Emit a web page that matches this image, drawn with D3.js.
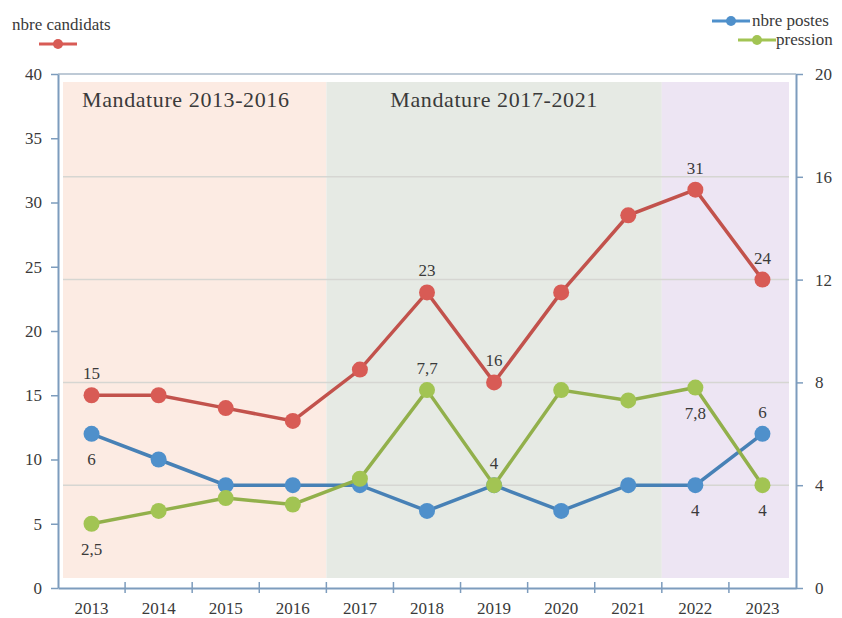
<!DOCTYPE html>
<html>
<head>
<meta charset="utf-8">
<script src="https://cdn.jsdelivr.net/npm/d3@7"></script>
<style>
  body { margin: 0; background: #fff; }
  svg text { font-family: "Liberation Serif", "DejaVu Serif", serif; fill: #3a3a3a; }
</style>
</head>
<body>
<div id="chart"></div>
<script>
const years = ['2013', '2014', '2015', '2016', '2017', '2018', '2019', '2020', '2021', '2022', '2023']
const candidats = [15, 15, 14, 13, 17, 23, 16, 23, 29, 31, 24]
const postes = [6, 5, 4, 4, 4, 3, 4, 3, 4, 4, 6]
const pression = [2.5, 3, 3.5, 3.25, 4.25, 7.7, 4, 7.7, 7.3, 7.8, 4]

const leftTicks = [0, 5, 10, 15, 20, 25, 30, 35, 40]
const rightTicks = [0, 4, 8, 12, 16, 20]

// periods (first year, last year, label)
const periods = [
  { from: '2013', to: '2016', label: 'Mandature 2013-2016', color: '#fcebe3' },
  { from: '2017', to: '2021', label: 'Mandature 2017-2021', color: '#e6eae4' },
  { from: '2022', to: '2023', label: '', color: '#ede5f3' }
]

// point labels: [year index, text, above?]
const candidatsLabels = [[0, '15', true], [5, '23', true], [6, '16', true], [9, '31', true], [10, '24', true]]
const postesLabels = [[0, '6', false], [6, '4', true], [9, '4', false], [10, '6', true]]
const pressionLabels = [[0, '2,5', false], [5, '7,7', true], [9, '7,8', false], [10, '4', false]]

const width = 842
const height = 618
const margin = { top: 74, right: 46, bottom: 30, left: 58 }
const serif = '"Liberation Serif", "DejaVu Serif", serif'

const svg = d3.select('#chart')
  .append('svg')
  .attr('width', width)
  .attr('height', height)
  .attr('font-family', serif)

const x = d3.scaleBand()
  .domain(years)
  .range([margin.left, width - margin.right])

const yL = d3.scaleLinear().domain([0, 40]).range([height - margin.bottom, margin.top])
const yR = d3.scaleLinear().domain([0, 20]).range([height - margin.bottom, margin.top])

const axisColor = '#7d9cbd'

// shaded periods
svg.append('g')
  .selectAll('rect')
  .data(periods)
  .enter()
  .append('rect')
  .attr('x', (d, i) => x(d.from) + (i === 0 ? 5 : 0))
  .attr('width', (d, i) => x(d.to) + x.bandwidth() - x(d.from) - (i === 0 ? 5 : 0) - (i === periods.length - 1 ? 7 : 0))
  .attr('y', margin.top + 8)
  .attr('height', height - margin.bottom - margin.top - 18)
  .attr('fill', (d) => d.color)

svg.append('g')
  .selectAll('text')
  .data(periods.filter((d) => d.label))
  .enter()
  .append('text')
  .attr('x', (d, i) => i === 0 ? x(d.from) + 24 : (x(d.from) + x(d.to) + x.bandwidth()) / 2)
  .attr('y', margin.top + 33)
  .attr('text-anchor', (d, i) => i === 0 ? 'start' : 'middle')
  .attr('font-size', 22)
  .attr('font-family', serif)
  .attr('letter-spacing', 0.6)
  .text((d) => d.label)

// gridlines from right axis
svg.append('g')
  .selectAll('line')
  .data(rightTicks.slice(1, -1))
  .enter()
  .append('line')
  .attr('x1', margin.left + 5)
  .attr('x2', width - margin.right - 7)
  .attr('y1', (d) => yR(d))
  .attr('y2', (d) => yR(d))
  .attr('stroke', '#d6d6d2')
  .attr('stroke-width', 1.5)

// frame top
svg.append('line')
  .attr('x1', margin.left).attr('x2', width - margin.right)
  .attr('y1', margin.top).attr('y2', margin.top)
  .attr('stroke', '#a8b8c8').attr('stroke-width', 1.5)

// axes
const styleAxis = (g) => {
  g.attr('font-family', serif)
  g.select('.domain').attr('stroke', axisColor).attr('stroke-width', 2)
  g.selectAll('.tick line').attr('stroke', axisColor).attr('stroke-width', 1.5)
  g.selectAll('.tick text').attr('font-size', 17).attr('fill', '#3a3a3a')
}

svg.append('g')
  .attr('transform', `translate(${margin.left},0)`)
  .call(d3.axisLeft(yL).tickValues(leftTicks).tickSize(7).tickSizeOuter(0).tickPadding(9))
  .call(styleAxis)

svg.append('g')
  .attr('transform', `translate(${width - margin.right},0)`)
  .call(d3.axisRight(yR).tickValues(rightTicks).tickSize(7).tickSizeOuter(0).tickPadding(12))
  .call(styleAxis)

const xAxis = svg.append('g')
  .attr('transform', `translate(0,${height - margin.bottom})`)
  .call(d3.axisBottom(x).tickSize(0).tickPadding(14))
  .call(styleAxis)

// tick marks between categories
xAxis.selectAll('.sep')
  .data(years.slice(1))
  .enter()
  .append('line')
  .attr('class', 'sep')
  .attr('x1', (d) => x(d)).attr('x2', (d) => x(d))
  .attr('y1', -6).attr('y2', 5)
  .attr('stroke', axisColor).attr('stroke-width', 1.5)

const cx = (i) => x(years[i]) + x.bandwidth() / 2

const drawSeries = (values, yScale, color, labels) => {
  const line = d3.line()
    .x((d, i) => cx(i))
    .y((d) => yScale(d))

  svg.append('path')
    .datum(values)
    .attr('fill', 'none')
    .attr('stroke', d3.color(color).darker(0.3))
    .attr('stroke-width', 3.5)
    .attr('d', line)

  svg.append('g')
    .selectAll('circle')
    .data(values)
    .enter()
    .append('circle')
    .attr('cx', (d, i) => cx(i))
    .attr('cy', (d) => yScale(d))
    .attr('r', 8)
    .attr('fill', color)

  svg.append('g')
    .selectAll('text')
    .data(labels)
    .enter()
    .append('text')
    .attr('x', (d) => cx(d[0]))
    .attr('y', (d) => yScale(values[d[0]]) + (d[2] ? -16 : 31))
    .attr('text-anchor', 'middle')
    .attr('font-size', 17)
    .attr('font-family', serif)
    .text((d) => d[1])
}

const red = '#d85b55'
const blue = '#4f90cb'
const green = '#a2c453'

drawSeries(postes, yR, blue, postesLabels)
drawSeries(pression, yR, green, pressionLabels)
drawSeries(candidats, yL, red, candidatsLabels)

// legends
const legendItem = (lx, ly, color) => {
  svg.append('line')
    .attr('x1', lx - 19).attr('x2', lx + 19)
    .attr('y1', ly).attr('y2', ly)
    .attr('stroke', color).attr('stroke-width', 3)
  svg.append('circle').attr('cx', lx).attr('cy', ly).attr('r', 5).attr('fill', color)
}

const legendText = (lx, ly, t) => svg.append('text')
  .attr('x', lx).attr('y', ly)
  .attr('font-size', 17)
  .attr('font-family', serif)
  .text(t)

legendText(12, 30, 'nbre candidats')
legendItem(58, 44, red)

legendItem(731, 21, blue)
legendText(752, 26, 'nbre postes')
legendItem(757, 40, green)
legendText(776, 45, 'pression')
</script>
</body>
</html>
